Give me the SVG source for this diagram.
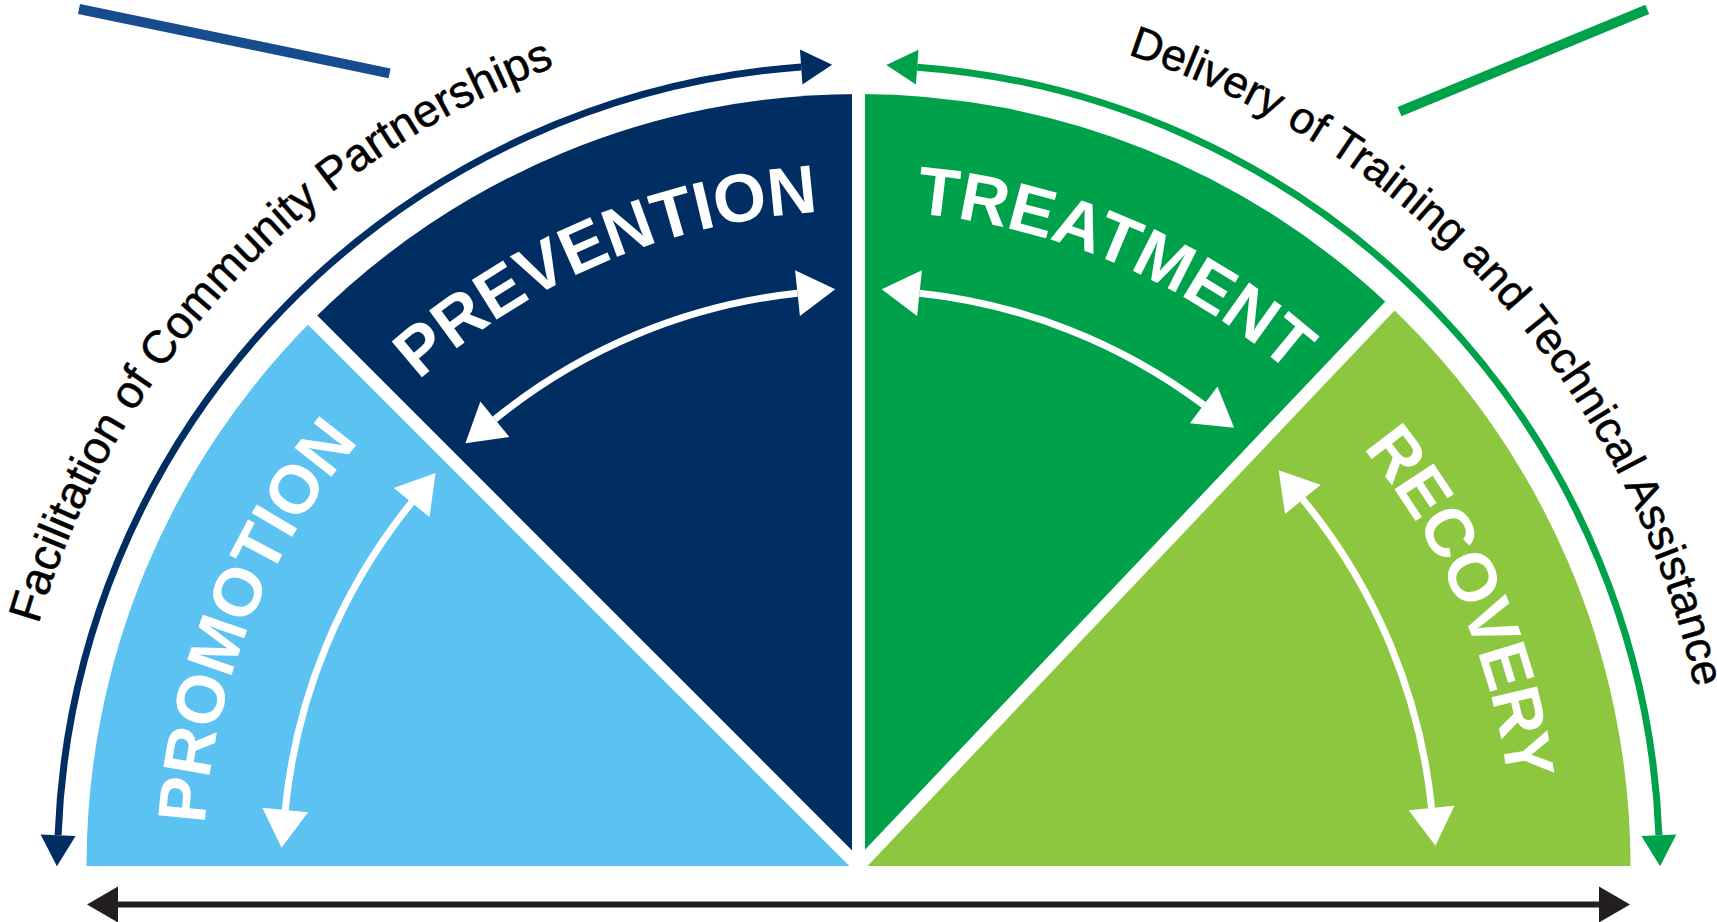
<svg xmlns="http://www.w3.org/2000/svg" width="1717" height="922" viewBox="0 0 1717 922">
<style>
.lbl{font-family:"Liberation Sans",Arial,sans-serif;font-weight:bold;font-size:68px;fill:#ffffff}
.outer{font-family:"Liberation Sans",Arial,sans-serif;font-size:46px;fill:#000000;stroke:#000000;stroke-width:0.5}
.gap{stroke:#ffffff;stroke-width:13;fill:none}
.inner{stroke:#ffffff;stroke-width:7;fill:none;marker-start:url(#hWhite);marker-end:url(#hWhite)}
</style>
<defs>
<marker id="hNavy" markerUnits="userSpaceOnUse" viewBox="-1 -20 40 40" markerWidth="40" markerHeight="40" refX="0" refY="0" orient="auto-start-reverse"><path d="M0,-17.5 L31,0 L0,17.5 Z" fill="#002d62"/></marker>
<marker id="hGreen" markerUnits="userSpaceOnUse" viewBox="-1 -20 40 40" markerWidth="40" markerHeight="40" refX="0" refY="0" orient="auto-start-reverse"><path d="M0,-17.5 L31,0 L0,17.5 Z" fill="#00a14b"/></marker>
<marker id="hBlack" markerUnits="userSpaceOnUse" viewBox="-1 -20 40 40" markerWidth="40" markerHeight="40" refX="0" refY="0" orient="auto-start-reverse"><path d="M0,-18 L31,0 L0,18 Z" fill="#231f20"/></marker>
<marker id="hWhite" markerUnits="userSpaceOnUse" viewBox="-1 -25 42 50" markerWidth="42" markerHeight="50" refX="0" refY="0" orient="auto-start-reverse"><path d="M0,-23 L38,0 L0,23 Z" fill="#ffffff"/></marker>
<path id="tp655" d="M 203.5 866 A 655 655 0 0 1 1513.5 866"/>
<path id="tp855" d="M 3.5 866 A 855 855 0 0 1 1713.5 866"/>
</defs>
<rect width="1717" height="922" fill="#ffffff"/>

<g id="decor">
<line x1="79" y1="9" x2="389.6" y2="73.3" stroke="#174c8e" stroke-width="10"/>
<line x1="1399.5" y1="111.7" x2="1647.3" y2="9.3" stroke="#00a14b" stroke-width="10"/>
</g>

<g id="promotion">
<path d="M 858.5 866 L 86.5 866 A 772 772 0 0 1 312.6 320.1 Z" fill="#5bc2f1"/>
</g>
<g id="prevention">
<path d="M 858.5 866 L 312.6 320.1 A 772 772 0 0 1 858.5 94 Z" fill="#002d62"/>
</g>
<g id="treatment">
<path d="M 858.5 866 L 858.5 94 A 772 772 0 0 1 1389.9 306 Z" fill="#00a14b"/>
</g>
<g id="recovery">
<path d="M 858.5 866 L 1389.9 306 A 772 772 0 0 1 1630.5 866 Z" fill="#8dc63f"/>
</g>

<g id="gaps">
<line class="gap" x1="858.5" y1="870" x2="858.5" y2="82"/>
<line class="gap" x1="858.5" y1="866" x2="303.4" y2="310.9"/>
<line class="gap" x1="858.5" y1="866" x2="1398.9" y2="296.6"/>
</g>

<g id="connectors">
<path d="M 58.1 835.25 A 801 801 0 0 1 801.2 67.05" fill="none" stroke="#002d62" stroke-width="7" marker-start="url(#hNavy)" marker-end="url(#hNavy)"/>
<path d="M 917.2 67.15 A 801 801 0 0 1 1658.9 835.25" fill="none" stroke="#00a14b" stroke-width="7" marker-start="url(#hGreen)" marker-end="url(#hGreen)"/>
<path d="M 118 904.5 L 1599 904.5" fill="none" stroke="#231f20" stroke-width="6" marker-start="url(#hBlack)" marker-end="url(#hBlack)"/>
<path class="inner" d="M 285.23 809.99 A 576 576 0 0 1 411.62 502.57"/>
<path class="inner" d="M 494.87 419.28 A 576 576 0 0 1 797.49 293.24"/>
<path class="inner" d="M 919.51 293.24 A 576 576 0 0 1 1203.70 404.89"/>
<path class="inner" d="M 1302.81 499.45 A 576 576 0 0 1 1431.57 807.99"/>
</g>

<g id="labels">
<text class="lbl" text-anchor="middle"><textPath href="#tp655" startOffset="12.22%">PROMOTION</textPath></text>
<text class="lbl" text-anchor="middle"><textPath href="#tp655" startOffset="37.31%">PREVENTION</textPath></text>
<text class="lbl" text-anchor="middle"><textPath href="#tp655" startOffset="62.83%">TREATMENT</textPath></text>
<text class="lbl" text-anchor="middle" letter-spacing="-1.5"><textPath href="#tp655" startOffset="86.89%">RECOVERY</textPath></text>
<text class="outer" text-anchor="middle"><textPath href="#tp855" startOffset="23.78%">Facilitation of Community Partnerships</textPath></text>
<text class="outer" text-anchor="middle" style="font-size:44.5px"><textPath href="#tp855" startOffset="76.75%">Delivery of Training and Technical Assistance</textPath></text>
</g>
</svg>
